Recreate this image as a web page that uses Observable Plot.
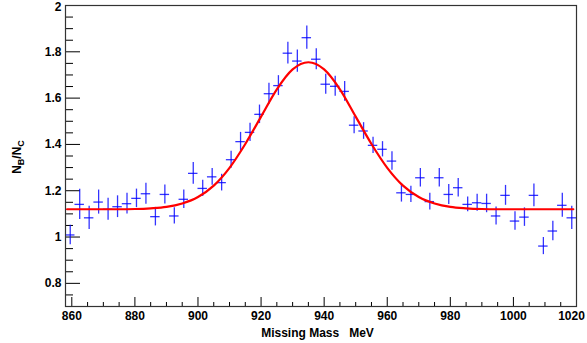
<!DOCTYPE html>
<html><head><meta charset="utf-8">
<script src="https://cdn.jsdelivr.net/npm/d3@7"></script>
<script src="https://cdn.jsdelivr.net/npm/@observablehq/plot@0.6"></script>
<style>html,body{margin:0;padding:0;background:#fff;}#chart{width:587px;height:343px;}</style>
</head><body><div id="chart"></div>
<script>
// Bin centres (MeV), 3 MeV bins
const mass = [859.5,862.5,865.5,868.5,871.5,874.5,877.5,880.5,883.5,886.5,889.5,892.5,895.5,898.5,
  901.5,904.5,907.5,910.5,913.5,916.5,919.5,922.5,925.5,928.5,931.5,934.5,937.5,940.5,943.5,946.5,
  949.5,952.5,955.5,958.5,961.5,964.5,967.5,970.5,973.5,976.5,979.5,982.5,985.5,988.5,991.5,994.5,
  997.5,1000.5,1003.5,1006.5,1009.5,1012.5,1015.5,1018.5];
// N_B/N_C ratio
const ratio = [1.009,1.141,1.083,1.151,1.120,1.131,1.144,1.167,1.187,1.088,1.184,1.091,1.163,1.275,
  1.210,1.260,1.235,1.334,1.412,1.452,1.530,1.619,1.654,1.794,1.760,1.861,1.768,1.660,1.651,1.629,
  1.483,1.458,1.396,1.379,1.328,1.191,1.184,1.256,1.153,1.256,1.184,1.213,1.141,1.148,1.145,1.091,
  1.180,1.069,1.086,1.180,0.961,1.026,1.137,1.083];
// statistical errors
const err = [0.042,0.065,0.050,0.052,0.048,0.047,0.045,0.040,0.045,0.040,0.041,0.035,0.040,0.047,
  0.035,0.036,0.036,0.037,0.040,0.039,0.040,0.045,0.043,0.047,0.048,0.050,0.045,0.043,0.043,0.043,
  0.037,0.036,0.035,0.033,0.040,0.040,0.035,0.040,0.036,0.040,0.043,0.040,0.032,0.037,0.040,0.039,
  0.043,0.040,0.040,0.049,0.037,0.042,0.052,0.050];
const binHalfWidth = 1.5;
// fit curve
const fitMass = [858.5,865,870,875,880,885,890,895,900,905,910,915,920,925,930,935,940,945,950,955,
  960,965,970,975,980,985,990,995,1000,1010,1019];
const fitValue = [1.120,1.120,1.120,1.120,1.121,1.124,1.130,1.145,1.173,1.222,1.299,1.402,1.520,1.638,
  1.724,1.755,1.724,1.638,1.520,1.402,1.299,1.222,1.173,1.145,1.130,1.124,1.121,1.120,1.120,1.120,1.120];
// ticks
const xMajor = [860,880,900,920,940,960,980,1000,1020];
const xLabels = [860,880,900,920,940,960,980,1000];
const xLastLabel = [1020];
const xMinor = [865,870,875,885,890,895,905,910,915,925,930,935,945,950,955,965,970,975,985,990,995,1005,1010,1015];
const yMajor = [0.8,1,1.2,1.4,1.6,1.8,2];
const yLabels = [0.8,1,1.2,1.4,1.6,1.8];
const yTopLabel = [2];
const yMinor = [0.75,0.85,0.9,0.95,1.05,1.1,1.15,1.25,1.3,1.35,1.45,1.5,1.55,1.65,1.7,1.75,1.85,1.9,1.95];
const xTitle = "Missing Mass   MeV";

const points = mass.map((m, i) => ({m, v: ratio[i], e: err[i]}));
const fit = fitMass.map((m, i) => ({m, v: fitValue[i]}));

const chart = Plot.plot({
  width: 587, height: 343,
  marginLeft: 65, marginRight: 11, marginTop: 5, marginBottom: 37,
  style: {fontFamily: "'Liberation Sans', Arial, sans-serif", fontSize: "12px", fontWeight: "bold", background: "#fff", color: "#000"},
  x: {domain: [858, 1020]},
  y: {domain: [0.7, 2]},
  marks: [
    Plot.axisY({ticks: yMinor, tickSize: -8, fill: "none", label: null}),
    Plot.axisY({ticks: yMajor, tickSize: -15, fill: "none", label: null}),
    Plot.axisY({ticks: yLabels, tickSize: 0, tickPadding: 4, tickFormat: d => String(d), label: null}),
    Plot.axisY({ticks: yTopLabel, tickSize: 0, tickPadding: 4, tickFormat: d => String(d), label: null, dy: 2}),
    Plot.axisX({ticks: xMinor, tickSize: -4, fill: "none", label: null}),
    Plot.axisX({ticks: xMajor, tickSize: -9, fill: "none", label: null}),
    Plot.axisX({ticks: xLabels, tickSize: 0, tickPadding: 5, tickFormat: d => String(d), label: null}),
    Plot.axisX({ticks: xLastLabel, tickSize: 0, tickPadding: 5, tickFormat: d => String(d), label: null, dx: -5}),
    Plot.ruleX(points, {x: "m", y1: d => d.v - d.e, y2: d => d.v + d.e, stroke: "#0000ff", strokeWidth: 1.3, strokeOpacity: 0.8}),
    Plot.ruleY(points, {y: "v", x1: d => d.m - binHalfWidth, x2: d => d.m + binHalfWidth, stroke: "#0000ff", strokeWidth: 1.3, strokeOpacity: 0.8}),
    Plot.line(fit, {x: "m", y: "v", stroke: "#ff0000", strokeWidth: 2.2, curve: "monotone-x"}),
    Plot.frame({stroke: "#333", strokeWidth: 1.2})
  ]
});
document.getElementById("chart").appendChild(chart);

const svg = d3.select(chart);
const yt = svg.append("text")
  .attr("transform", "translate(20.5,157) rotate(-90)")
  .attr("text-anchor", "middle")
  .attr("fill", "#000")
  .style("font", "bold 12px 'Liberation Sans', Arial, sans-serif");
yt.append("tspan").text("N");
yt.append("tspan").attr("dy", 3).attr("font-size", "9px").text("B");
yt.append("tspan").attr("dy", -3).text("/N");
yt.append("tspan").attr("dy", 3).attr("font-size", "9px").text("C");

svg.append("text")
  .attr("x", 317.5).attr("y", 337)
  .attr("text-anchor", "middle")
  .attr("fill", "#000")
  .style("font", "bold 12px 'Liberation Sans', Arial, sans-serif")
  .style("white-space", "pre")
  .text(xTitle);
</script>
</body></html>
